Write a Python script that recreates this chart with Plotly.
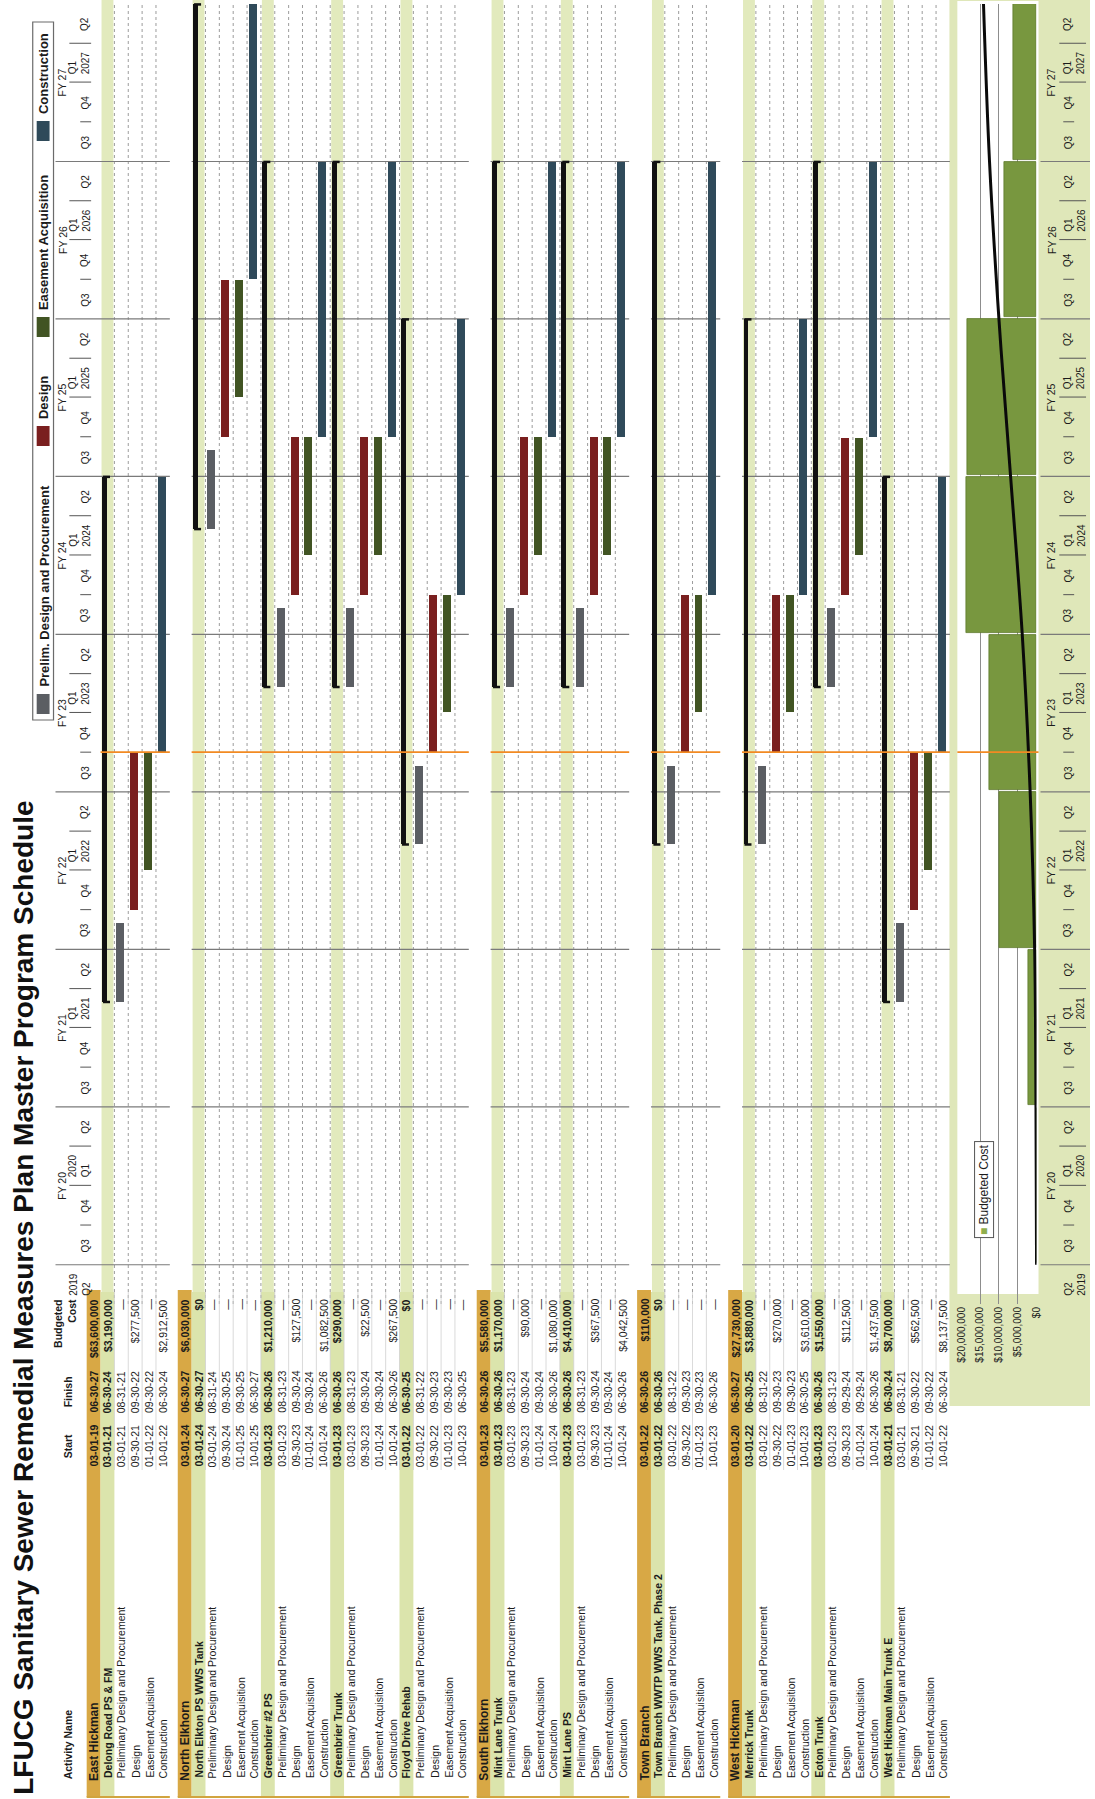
import pandas as pd
import plotly.graph_objects as go

W, H = 1095, 1799
FONT = "Liberation Sans, Arial, Helvetica, sans-serif"
INK = "#1b1b1b"

TITLE = "LFUCG Sanitary Sewer Remedial Measures Plan Master Program Schedule"

# ------------------------------------------------------------------ activities
row_kind = [
    "group", "project", "prelim", "design", "easement", "construction",
    "group", "project", "prelim", "design", "easement", "construction",
    "project", "prelim", "design", "easement", "construction",
    "project", "prelim", "design", "easement", "construction",
    "project", "prelim", "design", "easement", "construction",
    "group", "project", "prelim", "design", "easement", "construction",
    "project", "prelim", "design", "easement", "construction",
    "group", "project", "prelim", "design", "easement", "construction",
    "group", "project", "prelim", "design", "easement", "construction",
    "project", "prelim", "design", "easement", "construction",
    "project", "prelim", "design", "easement", "construction",
]
P, D, E, C = "Preliminary Design and Procurement", "Design", "Easement Acquisition", "Construction"
activity = [
    "East Hickman", "Delong Road PS & FM", P, D, E, C,
    "North Elkhorn", "North Elkton PS WWS Tank", P, D, E, C,
    "Greenbrier #2 PS", P, D, E, C,
    "Greenbrier Trunk", P, D, E, C,
    "Floyd Drive Rehab", P, D, E, C,
    "South Elkhorn", "Mint Lane Trunk", P, D, E, C,
    "Mint Lane PS", P, D, E, C,
    "Town Branch", "Town Branch WWTP WWS Tank, Phase 2", P, D, E, C,
    "West Hickman", "Merrick Trunk", P, D, E, C,
    "Eoton Trunk", P, D, E, C,
    "West Hickman Main Trunk E", P, D, E, C,
]
start = [
    "03-01-19", "03-01-21", "03-01-21", "09-30-21", "01-01-22", "10-01-22",
    "03-01-24", "03-01-24", "03-01-24", "09-30-24", "01-01-25", "10-01-25",
    "03-01-23", "03-01-23", "09-30-23", "01-01-24", "10-01-24",
    "03-01-23", "03-01-23", "09-30-23", "01-01-24", "10-01-24",
    "03-01-22", "03-01-22", "09-30-22", "01-01-23", "10-01-23",
    "03-01-23", "03-01-23", "03-01-23", "09-30-23", "01-01-24", "10-01-24",
    "03-01-23", "03-01-23", "09-30-23", "01-01-24", "10-01-24",
    "03-01-22", "03-01-22", "03-01-22", "09-30-22", "01-01-23", "10-01-23",
    "03-01-20", "03-01-22", "03-01-22", "09-30-22", "01-01-23", "10-01-23",
    "03-01-23", "03-01-23", "09-30-23", "01-01-24", "10-01-24",
    "03-01-21", "03-01-21", "09-30-21", "01-01-22", "10-01-22",
]
finish = [
    "06-30-27", "06-30-24", "08-31-21", "09-30-22", "09-30-22", "06-30-24",
    "06-30-27", "06-30-27", "08-31-24", "09-30-25", "09-30-25", "06-30-27",
    "06-30-26", "08-31-23", "09-30-24", "09-30-24", "06-30-26",
    "06-30-26", "08-31-23", "09-30-24", "09-30-24", "06-30-26",
    "06-30-25", "08-31-22", "09-30-23", "09-30-23", "06-30-25",
    "06-30-26", "06-30-26", "08-31-23", "09-30-24", "09-30-24", "06-30-26",
    "06-30-26", "08-31-23", "09-30-24", "09-30-24", "06-30-26",
    "06-30-26", "06-30-26", "08-31-22", "09-30-23", "09-30-23", "06-30-26",
    "06-30-27", "06-30-25", "08-31-22", "09-30-23", "09-30-23", "06-30-25",
    "06-30-26", "08-31-23", "09-29-24", "09-29-24", "06-30-26",
    "06-30-24", "08-31-21", "09-30-22", "09-30-22", "06-30-24",
]
budgeted_cost = [
    "$63,600,000", "$3,190,000", "—", "$277,500", "—", "$2,912,500",
    "$6,030,000", "$0", "—", "—", "—", "—",
    "$1,210,000", "—", "$127,500", "—", "$1,082,500",
    "$290,000", "—", "$22,500", "—", "$267,500",
    "$0", "—", "—", "—", "—",
    "$5,580,000", "$1,170,000", "—", "$90,000", "—", "$1,080,000",
    "$4,410,000", "—", "$367,500", "—", "$4,042,500",
    "$110,000", "$0", "—", "—", "—", "—",
    "$27,730,000", "$3,880,000", "—", "$270,000", "—", "$3,610,000",
    "$1,550,000", "—", "$112,500", "—", "$1,437,500",
    "$8,700,000", "—", "$562,500", "—", "$8,137,500",
]

# ------------------------------------------------------------ budget by FY
fiscal_year = ["FY 20", "FY 21", "FY 22", "FY 23", "FY 24", "FY 25", "FY 26", "FY 27"]
fy_budget = [0, 2_300_000, 9_900_000, 12_500_000, 18_700_000, 18_300_000, 8_700_000, 6_200_000]
curve_date = ["2019-07-01", "2020-07-01", "2021-07-01", "2022-07-01", "2023-07-01",
              "2024-07-01", "2025-07-01", "2026-07-01", "2027-07-01"]
curve_value = [0, 150_000, 500_000, 1_700_000, 3_800_000, 6_900_000, 10_000_000, 12_500_000, 14_100_000]
cost_ticks = [0, 5_000_000, 10_000_000, 15_000_000, 20_000_000]
cost_tick_text = ["$0", "$5,000,000", "$10,000,000", "$15,000,000", "$20,000,000"]

legend_labels = ["Prelim. Design and Procurement", "Design", "Easement Acquisition", "Construction"]
DATA_DATE = "2022-10-01"

BAR_COLOR = {
    "project": "#111111",
    "prelim": "#5b5e63",
    "design": "#7a1f1f",
    "easement": "#415423",
    "construction": "#2f4a5a",
}

# ------------------------------------------------------------ geometry
def py(p):
    return 1 - p / H


def px(p):
    return p / W


PITCH, BLOCK_GAP, FIRST_ROW = 14.0, 8.0, 88.5
row_x = []
pos = FIRST_ROW
for i, kind in enumerate(row_kind):
    if i > 0:
        pos += PITCH + (BLOCK_GAP if kind == "group" else 0)
    row_x.append(pos)

blocks = []
for i, kind in enumerate(row_kind):
    if kind == "group":
        blocks.append([i, i])
    else:
        blocks[-1][1] = i

GANTT_TOP, GANTT_BOTTOM = 4, 1304
Y_RANGE = ["2019-04-01", "2027-07-01"]
Y_DOMAIN = [py(GANTT_BOTTOM), py(GANTT_TOP)]

t_start = pd.to_datetime(pd.Series(start), format="%m-%d-%y")
t_finish = pd.to_datetime(pd.Series(finish), format="%m-%d-%y")

fig = go.Figure()

# ------------------------------------------------------------ gantt bars
for kind in ["prelim", "design", "easement", "construction", "project"]:
    idx = [i for i, k in enumerate(row_kind) if k == kind]
    off, wid = (-3.0, 5.0) if kind == "project" else (-1.0, 8.0)
    fig.add_trace(go.Bar(
        x=[row_x[i] + off for i in idx],
        y=[(t_finish[i] - t_start[i]).total_seconds() * 1000 for i in idx],
        base=[t_start[i].strftime("%Y-%m-%d") for i in idx],
        width=wid,
        marker=dict(color=BAR_COLOR[kind], line=dict(width=0)),
        xaxis="x", yaxis="y", showlegend=False, hoverinfo="skip",
    ))

# small end caps on the summary bars
proj = [i for i, k in enumerate(row_kind) if k == "project"]
cap_x = [row_x[i] - 1.0 for i in proj] * 2
cap_y = [t_start[i].strftime("%Y-%m-%d") for i in proj] + [t_finish[i].strftime("%Y-%m-%d") for i in proj]
fig.add_trace(go.Scatter(
    x=cap_x, y=cap_y, mode="markers",
    marker=dict(symbol="line-ew", size=5, line=dict(color="#111111", width=2.5)),
    xaxis="x", yaxis="y", showlegend=False, hoverinfo="skip", cliponaxis=False,
))

# ------------------------------------------------------------ budget panel
fy_mid = [f"20{fy[-2:]}-01-01" for fy in fiscal_year]
fig.add_trace(go.Bar(
    y=fy_mid, x=fy_budget, orientation="h",
    width=360 * 86400 * 1000,
    marker=dict(color="#78973f", line=dict(color="#5d7a2c", width=0.8)),
    xaxis="x2", yaxis="y2", showlegend=False, hoverinfo="skip",
))
fig.add_trace(go.Scatter(
    x=curve_value, y=curve_date, mode="lines",
    line=dict(color="#0a0a0a", width=3, shape="spline"),
    xaxis="x2", yaxis="y2", showlegend=False, hoverinfo="skip",
))

shapes = []
ann = []


def rect(x0, x1, y0, y1, color, xref="paper", yref="paper", layer="below", line=None):
    shapes.append(dict(type="rect", xref=xref, yref=yref, x0=x0, x1=x1, y0=y0, y1=y1,
                       fillcolor=color, line=line or dict(width=0), layer=layer))


def seg(x0, x1, y0, y1, color, width=1, dash="solid", xref="x", yref="y", layer="below"):
    shapes.append(dict(type="line", xref=xref, yref=yref, x0=x0, x1=x1, y0=y0, y1=y1,
                       line=dict(color=color, width=width, dash=dash), layer=layer))


def label(text, x, y, size=10.5, bold=False, xref="x", yref="paper",
          xanchor="center", yanchor="middle", color=INK, align="left", **kw):
    ann.append(dict(text=f"<b>{text}</b>" if bold else text, x=x, y=y, xref=xref, yref=yref,
                    xanchor=xanchor, yanchor=yanchor, textangle=-90, showarrow=False,
                    align=align, font=dict(family=FONT, size=size, color=color), **kw))


# budget panel background and plotting area
rect(px(953), px(W), py(1406), py(0), "#dfe7b9")
rect(px(961), px(1043), py(1294), py(1), "#ffffff")

# ------------------------------------------------------------ row bands
half = PITCH / 2
for i, kind in enumerate(row_kind):
    x = row_x[i]
    if kind == "project":
        rect(x - half + 1, x + half - 1, py(1292), py(0), "#e2eabd", xref="x")
        rect(x - half, x + half, py(1797), py(1292), "#dbe4ac", xref="x")
    elif kind == "group":
        rect(x - half, x + half, py(1797), py(1290), "#d8a845", xref="x")

# dotted row separators inside each block
for b0, b1 in blocks:
    for i in range(b0 + 1, b1):
        xm = (row_x[i] + row_x[i + 1]) / 2
        seg(xm, xm, py(GANTT_BOTTOM), py(GANTT_TOP), "#9c9c9c", 1, "dot", yref="paper")
        seg(xm, xm, py(1470), py(1292), "#d0d0d0", 0.8, yref="paper")
    # table bottom rule
    seg(row_x[b0] - half, row_x[b1] + half, py(1797), py(1797), "#d1a43f", 2, yref="paper")

# fiscal-year lines and data date line per block
fy_lines = [f"{y}-07-01" for y in range(2019, 2027)]
for n, (b0, b1) in enumerate(blocks):
    x_left = 50 if n == 0 else row_x[b0 + 1] - half
    x_right = row_x[b1] + half
    for d in fy_lines:
        seg(x_left, x_right, d, d, "#7a7a7a", 1.2)
    seg(row_x[b0 + 1] - half, x_right, DATA_DATE, DATA_DATE, "#f28a22", 1.6, layer="above")

# ------------------------------------------------------------ timescale headers
quarters = pd.period_range("2019Q2", "2027Q2", freq="Q")
for q in quarters:
    mid = (q.start_time + (q.end_time - q.start_time) / 2).strftime("%Y-%m-%d")
    qn = f"Q{q.quarter}"
    first = q == quarters[0]
    if q.quarter == 1 or first:
        gantt_txt = f"{q.year}<br>{qn}" if q.year <= 2020 else f"{qn}<br>{q.year}"
        label(gantt_txt, 74, mid, size=10, yref="y")
        label(f"{qn}<br>{q.year}", 1079, mid, size=10, yref="y")
    else:
        label(qn, 80, mid, size=10, yref="y")
        label(qn, 1073, mid, size=10, yref="y")
    # quarter separators
    if q != quarters[0]:
        d = q.start_time.strftime("%Y-%m-%d")
        if q.quarter == 3:
            seg(1045, W, d, d, "#7a7a7a", 1.2, layer="above")
        elif q.quarter == 4:
            seg(75, 86, d, d, "#555555", 1)
            seg(1068, 1079, d, d, "#555555", 1)
        else:
            seg(64, 86, d, d, "#555555", 1)
            seg(1064, 1091, d, d, "#555555", 1)

for fy in fiscal_year:
    mid = f"20{fy[-2:]}-01-01"
    label(fy, 57, mid, size=10.5, yref="y")
    label(fy, 1056, mid, size=10.5, yref="y")

seg(961, 1043, DATA_DATE, DATA_DATE, "#f28a22", 1.6, layer="above")

# ------------------------------------------------------------ table
label("Activity Name", 63, py(1781), size=10.5, bold=True, yanchor="bottom")
label("Start", 63, py(1446), size=10.5, bold=True)
label("Finish", 63, py(1392), size=10.5, bold=True)
label("Budgeted<br>Cost", 59, py(1297), size=10.5, bold=True, yanchor="top", align="right")

for i, kind in enumerate(row_kind):
    x = row_x[i]
    strong = kind in ("group", "project")
    size = 12 if kind == "group" else 10.5
    label(activity[i], x, py(1783 if kind == "group" else 1780), size=size, bold=strong, yanchor="bottom")
    label(start[i], x, py(1446), size=10.5, bold=strong)
    label(finish[i], x, py(1392), size=10.5, bold=strong)
    label(budgeted_cost[i], x, py(1297), size=10.5, bold=strong, yanchor="top")

# ------------------------------------------------------------ title and legend
label(TITLE, px(17), py(1797), size=28, bold=True, xref="paper", yanchor="bottom", color="#111111")

rect(px(27), px(48), py(720), py(22), "#ffffff", line=dict(color="#6b6b6b", width=1.2), layer="above")
swatch_colors = [BAR_COLOR["prelim"], BAR_COLOR["design"], BAR_COLOR["easement"], BAR_COLOR["construction"]]
swatch_bottom = [714, 446, 337, 141]
for txt, col, sb in zip(legend_labels, swatch_colors, swatch_bottom):
    rect(px(31), px(44), py(sb), py(sb - 20), col, layer="above")
    label(txt, px(38), py(sb - 25), size=13, bold=True, xref="paper", yanchor="bottom")

ann.append(dict(
    text='<span style="color:#8fae4c">■</span> Budgeted Cost', x=988, y=py(1190),
    xref="x", yref="paper", textangle=-90, showarrow=False, xanchor="center", yanchor="middle",
    font=dict(family=FONT, size=12, color=INK), bgcolor="#ffffff",
    bordercolor="#555555", borderwidth=1, borderpad=2,
))

fig.update_layout(
    width=W, height=H,
    margin=dict(l=0, r=0, t=0, b=0),
    paper_bgcolor="#ffffff",
    plot_bgcolor="rgba(0,0,0,0)",
    barmode="overlay",
    bargap=0,
    showlegend=False,
    shapes=shapes,
    annotations=ann,
    xaxis=dict(domain=[0, 1], range=[0, W], visible=False, fixedrange=True),
    yaxis=dict(type="date", domain=Y_DOMAIN, range=Y_RANGE, visible=False, fixedrange=True),
    xaxis2=dict(domain=[px(965), px(1041)], range=[20_000_000, 0], anchor="y2",
                tickvals=cost_ticks, ticktext=cost_tick_text, tickangle=-90,
                tickfont=dict(family=FONT, size=10, color="#222222"),
                showgrid=True, gridcolor="#8d8d8d", gridwidth=1, layer="above traces",
                zeroline=False, showline=False, ticks="", fixedrange=True),
    yaxis2=dict(type="date", domain=Y_DOMAIN, range=Y_RANGE, anchor="x2",
                visible=False, fixedrange=True),
)

fig.write_html("out.html")
